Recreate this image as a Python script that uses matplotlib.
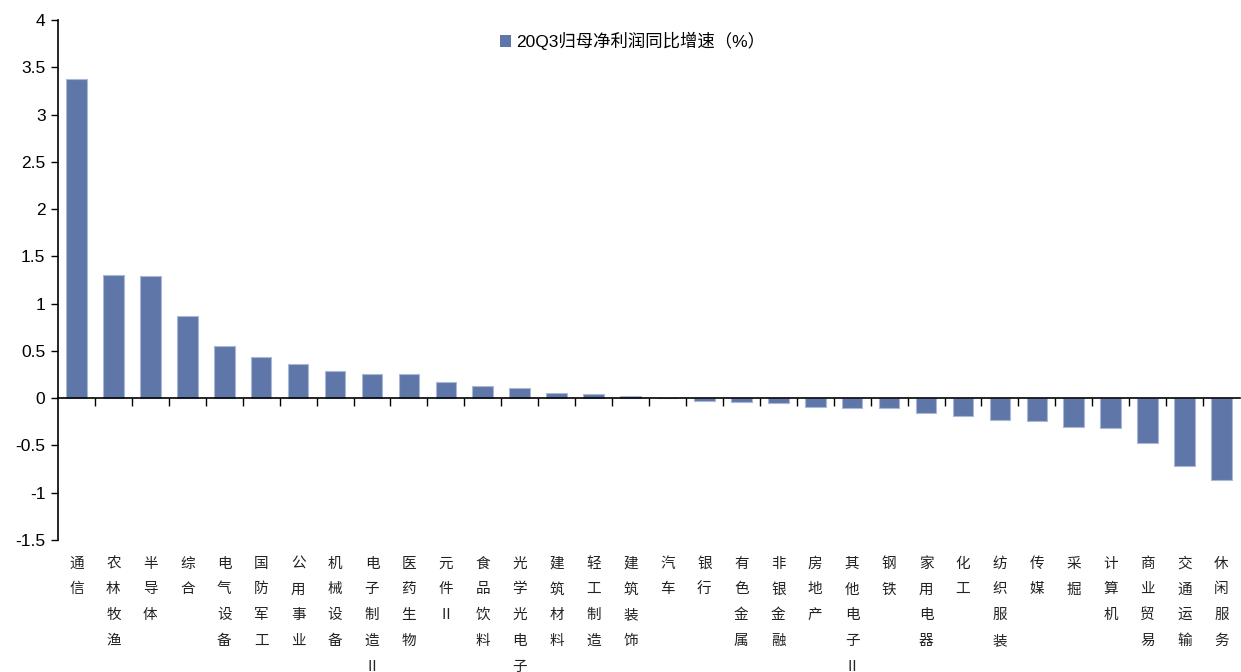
import numpy as np
import matplotlib
matplotlib.use("Agg")
import matplotlib.pyplot as plt
from matplotlib.transforms import blended_transform_factory

plt.rcParams['font.family'] = ['Liberation Sans', 'Noto Sans CJK SC', 'DejaVu Sans']

categories = ["通信", "农林牧渔", "半导体", "综合", "电气设备", "国防军工", "公用事业",
              "机械设备", "电子制造Ⅱ", "医药生物", "元件Ⅱ", "食品饮料", "光学光电子",
              "建筑材料", "轻工制造", "建筑装饰", "汽车", "银行", "有色金属", "非银金融",
              "房地产", "其他电子Ⅱ", "钢铁", "家用电器", "化工", "纺织服装", "传媒",
              "采掘", "计算机", "商业贸易", "交通运输", "休闲服务"]
growth = [3.38, 1.30, 1.29, 0.865, 0.555, 0.434, 0.364, 0.29, 0.26, 0.255, 0.174,
          0.131, 0.11, 0.06, 0.039, 0.018, 0.002, -0.03, -0.045, -0.05, -0.098,
          -0.10, -0.104, -0.154, -0.19, -0.236, -0.24, -0.307, -0.32, -0.477,
          -0.72, -0.864]
series_name = "20Q3归母净利润同比增速（%）"
y_ticks = [-1.5, -1, -0.5, 0, 0.5, 1, 1.5, 2, 2.5, 3, 3.5, 4]
y_tick_labels = ["-1.5", "-1", "-0.5", "0", "0.5", "1", "1.5", "2", "2.5", "3", "3.5", "4"]

W, H = 1241, 672
fig = plt.figure(figsize=(W / 100, H / 100), dpi=100)
ax = fig.add_axes([58 / W, 1 - 540 / H, (1240 - 58) / W, (540 - 20) / H])

x = np.arange(len(categories))
ax.bar(x, growth, width=0.56, color="#5E76A8", edgecolor="#A9B8D6",
       linewidth=0.8, label=series_name, zorder=2)

ax.set_xlim(-0.5, len(categories) - 0.5)
ax.set_ylim(-1.5, 4)
ax.set_yticks(y_ticks)
ax.set_yticklabels(y_tick_labels, fontsize=12.5)
ax.tick_params(axis="y", direction="out", length=5, width=1, pad=4, colors="black")

# category axis drawn through zero, ticks at category boundaries
for side in ("top", "right"):
    ax.spines[side].set_visible(False)
ax.spines["bottom"].set_position(("data", 0))
ax.spines["bottom"].set_linewidth(1.2)
ax.spines["left"].set_linewidth(1.2)
ax.set_xticks(np.arange(0.5, len(categories) - 1, 1))
ax.set_xticklabels([])
ax.tick_params(axis="x", direction="out", length=6, width=1)

# vertical (stacked) category names below the plot
trans = blended_transform_factory(ax.transData, ax.transAxes)
for xi, name in zip(x, categories):
    ax.text(xi, -0.032, "\n".join(name), transform=trans, ha="center", va="top",
            fontsize=10.5, linespacing=2.07,
            family=["Noto Sans CJK SC", "DejaVu Sans"], color="#222222")

leg = ax.legend(loc="upper center", bbox_to_anchor=(0.486, 0.99), frameon=False,
                fontsize=12.5, handlelength=0.65, handleheight=0.65,
                handletextpad=0.25, borderaxespad=0)
for p in leg.get_patches():
    p.set_edgecolor("none")

fig.savefig("out.png", dpi=100)
